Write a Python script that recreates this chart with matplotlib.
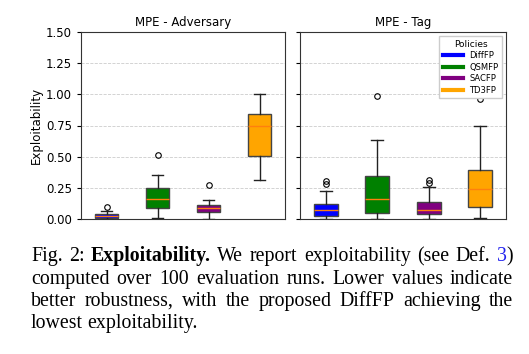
import matplotlib
matplotlib.use("Agg")
import matplotlib.pyplot as plt
from matplotlib.lines import Line2D

# Policies and their colours
policies = ["DiffFP", "QSMFP", "SACFP", "TD3FP"]
colors = ["blue", "green", "purple", "orange"]
panels = ["MPE - Adversary", "MPE - Tag"]

# Box statistics, one list per panel (order = policies)
adv_q1 = [0.008, 0.086, 0.054, 0.509]
adv_med = [0.025, 0.16, 0.086, 0.745]
adv_q3 = [0.038, 0.246, 0.11, 0.844]
adv_lo = [0.0, 0.005, 0.0, 0.31]
adv_hi = [0.062, 0.356, 0.15, 1.0]
adv_fliers = [[0.096], [0.51], [0.273], []]

tag_q1 = [0.024, 0.051, 0.038, 0.099]
tag_med = [0.07, 0.163, 0.072, 0.238]
tag_q3 = [0.12, 0.348, 0.137, 0.396]
tag_lo = [0.0, 0.0, 0.0, 0.005]
tag_hi = [0.222, 0.632, 0.254, 0.745]
tag_fliers = [[0.28, 0.305], [0.986], [0.29, 0.31], [0.964]]

yticks = [0.0, 0.25, 0.5, 0.75, 1.0, 1.25, 1.5]


def make_stats(q1, med, q3, lo, hi, fliers):
    stats = []
    for i in range(len(q1)):
        stats.append({"q1": q1[i], "med": med[i], "q3": q3[i],
                      "whislo": lo[i], "whishi": hi[i], "fliers": fliers[i]})
    return stats


all_stats = [
    make_stats(adv_q1, adv_med, adv_q3, adv_lo, adv_hi, adv_fliers),
    make_stats(tag_q1, tag_med, tag_q3, tag_lo, tag_hi, tag_fliers),
]

W, H = 529, 354
fig = plt.figure(figsize=(W / 100, H / 100), dpi=100)
ax1 = fig.add_axes([81 / W, 1 - 219 / H, 204 / W, 187 / H])
ax2 = fig.add_axes([300 / W, 1 - 219 / H, 206 / W, 187 / H], sharey=ax1)

for ax, title, stats in zip([ax1, ax2], panels, all_stats):
    bp = ax.bxp(stats, positions=[1, 2, 3, 4], widths=0.47, patch_artist=True,
                boxprops=dict(edgecolor="#444444", linewidth=1.0),
                whiskerprops=dict(color="#222222", linewidth=1.0),
                capprops=dict(color="#222222", linewidth=1.0),
                medianprops=dict(color="#ff7f0e", linewidth=1.0),
                flierprops=dict(marker="o", markersize=4, markerfacecolor="none",
                                markeredgecolor="black", markeredgewidth=0.8))
    for patch, c in zip(bp["boxes"], colors):
        patch.set_facecolor(c)
    ax.set_xlim(0.5, 4.5)
    ax.set_ylim(0, 1.5)
    ax.set_yticks(yticks)
    ax.set_xticks([])
    ax.set_title(title, fontsize=8.5, pad=4)
    ax.yaxis.grid(True, linestyle="--", color="#cccccc", linewidth=0.6)
    ax.set_axisbelow(True)
    ax.tick_params(axis="y", labelsize=8.5, length=3, width=0.8)
    for s in ax.spines.values():
        s.set_color("#333333")
        s.set_linewidth(0.8)

ax1.set_ylabel("Exploitability", fontsize=8.5, labelpad=2)
ax1.yaxis.set_major_formatter(plt.FormatStrFormatter("%.2f"))
plt.setp(ax2.get_yticklabels(), visible=False)

handles = [Line2D([0], [0], color=c, linewidth=3) for c in colors]
leg = ax2.legend(handles, policies, title="Policies", loc="upper right",
                 fontsize=6, title_fontsize=6.5, handlelength=2.4,
                 framealpha=1, edgecolor="#cccccc", borderpad=0.4,
                 labelspacing=0.3, fancybox=False)

# Caption, justified word by word
caption_lines = [
    [[("Fig.", "normal", "black")], [("2:", "normal", "black")],
     [("Exploitability.", "bold", "black")], [("We", "normal", "black")],
     [("report", "normal", "black")], [("exploitability", "normal", "black")],
     [("(see", "normal", "black")], [("Def.", "normal", "black")],
     [("3", "normal", "#2222ee"), (")", "normal", "black")]],
    [[(w, "normal", "black")] for w in
     "computed over 100 evaluation runs. Lower values indicate".split()],
    [[(w, "normal", "black")] for w in
     "better robustness, with the proposed DiffFP achieving the".split()],
    [[(w, "normal", "black")] for w in "lowest exploitability.".split()],
]
baselines = [261, 284, 306, 328]
x_left, x_right = 31, 513
cap_font = dict(family="Liberation Serif", size=14.3)

renderer = fig.canvas.get_renderer()
for li, (words, yb) in enumerate(zip(caption_lines, baselines)):
    placed = []
    for word in words:
        segs = []
        for txt, weight, col in word:
            t = fig.text(0, 1 - yb / H, txt, fontweight=weight, color=col,
                         va="baseline", ha="left", **cap_font)
            segs.append(t)
        placed.append(segs)
    widths = []
    for segs in placed:
        widths.append([t.get_window_extent(renderer).width for t in segs])
    total = sum(sum(w) for w in widths)
    justify = li < len(caption_lines) - 1
    if justify:
        gap = (x_right - x_left - total) / (len(placed) - 1)
    else:
        gap = 4.5
    x = x_left
    for segs, ws in zip(placed, widths):
        for t, w in zip(segs, ws):
            t.set_x(x / W)
            x += w
        x += gap

fig.savefig("out.png", dpi=100)
